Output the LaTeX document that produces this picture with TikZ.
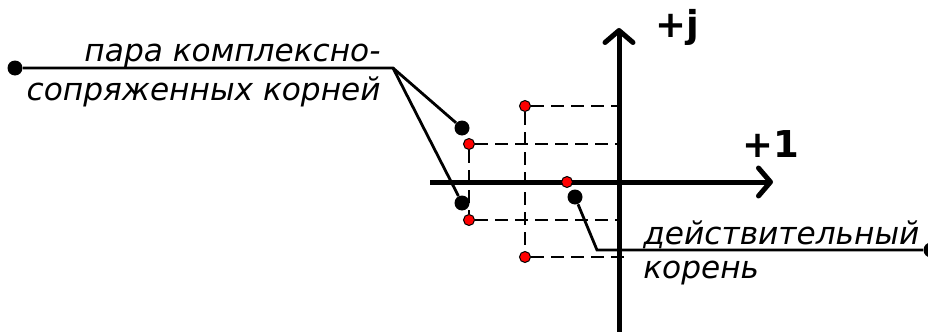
\documentclass[tikz,border=0pt]{standalone}
\usepackage{fontspec}
\setmainfont{DejaVu Sans}
\usetikzlibrary{arrows.meta}
\tikzset{
  axisline/.style ={line width=2.5pt, -{Straight Barb[round,length=6pt,width=14pt]}},
  leader/.style   ={line width=1.4pt},
  projline/.style ={line width=0.65pt, dash pattern=on 6.5pt off 3.5pt},
  rootdot/.style  ={circle, fill=black, inner sep=0pt, minimum size=7.5pt},
  markdot/.style  ={circle, draw=black, fill=red, line width=0.5pt,
                    inner sep=0pt, minimum size=5.5pt},
  axlabel/.style  ={font=\fontsize{18.5}{20}\selectfont\bfseries, inner sep=0pt},
  rootlabel/.style={font=\fontsize{15.6}{19.5}\selectfont\itshape, inner sep=0pt},
}

\begin{document}
\begin{tikzpicture}[x=0.5pt,y=-0.5pt]
    \useasboundingbox (0,0) rectangle (928,332);
    % axes
    \coordinate (o) at (619,182);
    \coordinate (xbeg) at (430,182);
    \coordinate (xend) at (773,182);
    \coordinate (ybeg) at (619,334);
    \coordinate (yend) at (619,28);
    \draw[axisline] (xbeg) -- (xend);
    \draw[axisline] (ybeg) -- (yend);
    \node[axlabel,anchor=base west] (jlbl) at (655,38) {+j};
    \node[axlabel,anchor=base west] (onelbl) at (742,157) {+1};

    % roots and projections
    \node[markdot] (p1) at (525,106) {};
    \node[markdot] (p2) at (469,144) {};
    \node[markdot] (p3) at (567,182) {};
    \node[markdot] (p4) at (469,220) {};
    \node[markdot] (p5) at (525,257) {};
    \coordinate (p5end) at (628,257);
    \draw[projline] (p1) -- (p1 -| o);
    \draw[projline] (p2) -- (p2 -| o);
    \draw[projline] (p4) -- (p4 -| o);
    \draw[projline] (p5) -- (p5end);
    \draw[projline] (p2) -- (p4);
    \draw[projline] (p1) -- (p5);

    % leaders
    \node[rootdot] (c1) at (462,128) {};
    \node[rootdot] (c2) at (462,203) {};
    \node[rootdot] (c3) at (575,197) {};
    \node[rootdot] (lend) at (15,68) {};
    \node[rootdot] (rend) at (931,250) {};
    \coordinate (bend) at (393,68);
    \coordinate (kink) at (597,250);
    \draw[leader] (lend) -- (bend) -- (c1);
    \draw[leader] (bend) -- (c2);
    \draw[leader] (c3) -- (kink) -- (rend);

    \node[rootlabel,align=right,anchor=base east] (pairlbl) at (381,100)
      {пара комплексно-\\сопряженных корней};
    \node[rootlabel,align=left,anchor=base west,
          font=\fontsize{15.6}{17}\selectfont\itshape] (reallbl) at (643,278)
      {действительный\\корень};
\end{tikzpicture}
\end{document}
